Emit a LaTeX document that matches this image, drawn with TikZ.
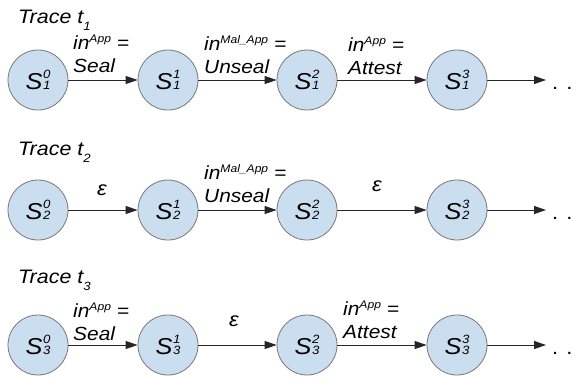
\documentclass[tikz,border=0pt]{standalone}
\usepackage{fontspec}
\setmainfont{Liberation Sans}[FakeStretch=1.1]
\usetikzlibrary{arrows.meta}
\definecolor{stfill}{RGB}{202,222,240}
\definecolor{stdraw}{RGB}{120,120,120}
\newcommand\st[2]{S\hspace{0.5pt}\raisebox{-0.5pt}{\fontsize{12}{15.5}\selectfont\shortstack[l]{#1\\#2}}\hspace{1pt}}
\newcommand\insup[1]{\raisebox{7pt}{\fontsize{11}{11}\selectfont #1}}
\newcommand\trsub[1]{\raisebox{-7pt}{\fontsize{12}{12}\selectfont #1}}
\tikzset{
  state/.style={circle, minimum size=60pt, inner sep=0pt, fill=stfill, draw=stdraw, line width=0.8pt, font=\fontsize{23}{24}\selectfont\itshape},
  trans/.style={-{Triangle[length=12pt,width=8pt]}, line width=0.9pt, draw=black!85},
  elabel/.style={anchor=south west, inner sep=0pt, align=left, font=\fontsize{19}{23}\selectfont\itshape},
  eps/.style={inner sep=0pt, font=\fontsize{20}{22}\selectfont\itshape},
  tracelab/.style={anchor=base west, inner sep=0pt, font=\fontsize{19.5}{22}\selectfont\itshape},
  dots/.style={anchor=base west, inner sep=0pt, font=\fontsize{20}{22}\selectfont}
}
\begin{document}
\begin{tikzpicture}[x=1pt,y=-1pt]
\useasboundingbox (0,0) rectangle (577,381);
% Row 1
\node[tracelab] (tr1) at (18,23) {Trace t\trsub{1}};
\node[state] (a0) at (38,80) {\st{0}{1}};
\node[state] (a1) at (168,80) {\st{1}{1}};
\node[state] (a2) at (307,80) {\st{2}{1}};
\node[state] (a3) at (457,80) {\st{3}{1}};
\coordinate (ae) at (546,80);
\node[dots] (ad) at (552,89) {. .};
\draw[trans] (a0) -- (a1);
\draw[trans] (a1) -- (a2);
\draw[trans] (a2) -- (a3);
\draw[trans] (a3) -- (ae);
\node[elabel] (al1) at (73,73) {in\insup{App} =\\Seal};
\node[elabel] (al2) at (204,74) {in\insup{Mal\_App} =\\Unseal};
\node[elabel] (al3) at (348,75) {in\insup{App} =\\Attest};
% Row 2
\node[tracelab] (tr2) at (18,155) {Trace t\trsub{2}};
\node[state] (b0) at (38,210) {\st{0}{2}};
\node[state] (b1) at (168,210) {\st{1}{2}};
\node[state] (b2) at (307,210) {\st{2}{2}};
\node[state] (b3) at (457,210) {\st{3}{2}};
\coordinate (be) at (546,210);
\node[dots] (bd) at (552,219) {. .};
\draw[trans] (b0) -- (b1);
\draw[trans] (b1) -- (b2);
\draw[trans] (b2) -- (b3);
\draw[trans] (b3) -- (be);
\node[eps] (bl1) at (102,190) {ε};
\node[elabel] (bl2) at (204,203) {in\insup{Mal\_App} =\\Unseal};
\node[eps] (bl3) at (377,186) {ε};
% Row 3
\node[tracelab] (tr3) at (18,283) {Trace t\trsub{3}};
\node[state] (c0) at (38,345) {\st{0}{3}};
\node[state] (c1) at (168,345) {\st{1}{3}};
\node[state] (c2) at (307,345) {\st{2}{3}};
\node[state] (c3) at (457,345) {\st{3}{3}};
\coordinate (ce) at (546,345);
\node[dots] (cd) at (552,354) {. .};
\draw[trans] (c0) -- (c1);
\draw[trans] (c1) -- (c2);
\draw[trans] (c2) -- (c3);
\draw[trans] (c3) -- (ce);
\node[elabel] (cl1) at (73,341) {in\insup{App} =\\Seal};
\node[eps] (cl2) at (234,321) {ε};
\node[elabel] (cl3) at (343,339) {in\insup{App} =\\Attest};
\end{tikzpicture}
\end{document}
